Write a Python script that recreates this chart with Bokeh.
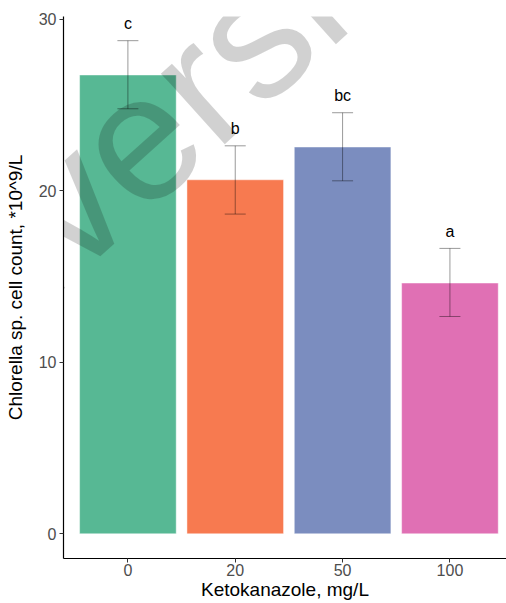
from bokeh.plotting import figure
from bokeh.models import ColumnDataSource, Whisker, Label, FixedTicker, Range1d, TeeHead
from bokeh.core.properties import value
from bokeh.embed import file_html
from bokeh.resources import INLINE

# ---- data ----
doses = ["0", "20", "50", "100"]
means = [26.75, 20.64, 22.55, 14.62]
upper = [28.75, 22.62, 24.55, 16.64]
lower = [24.78, 18.64, 20.58, 12.67]
letters = ["c", "b", "bc", "a"]
colors = ["#57B894", "#F77A50", "#7B8DBF", "#E070B4"]
y_ticks = [0, 10, 20, 30]

pos = list(range(len(doses)))
label_y = [u + 1.0 for u in upper]

src = ColumnDataSource(dict(x=pos, top=means, upper=upper, lower=lower,
                            color=colors, label=letters, ly=label_y))

FONT = "Liberation Sans"

p = figure(width=506, height=603,
           x_range=Range1d(-0.6, 3.527), y_range=Range1d(-1.44, 30.16),
           output_backend="svg", toolbar_location=None,
           min_border_left=63, min_border_right=0,
           min_border_top=16, min_border_bottom=45)
p.outline_line_color = None
p.xgrid.visible = False
p.ygrid.visible = False
p.background_fill_color = "white"
p.border_fill_color = "white"

p.vbar(x="x", top="top", bottom=0, width=0.9, fill_color="color",
       line_color="white", line_alpha=0.45, line_width=1, source=src)

p.add_layout(Whisker(base="x", upper="upper", lower="lower", source=src,
                     level="annotation",
                     line_color="black", line_alpha=0.4, line_width=1,
                     upper_head=TeeHead(size=21, line_color="black", line_alpha=0.4, line_width=1),
                     lower_head=TeeHead(size=21, line_color="black", line_alpha=0.4, line_width=1)))

p.text(x="x", y="ly", text="label", source=src, text_align="center",
       text_baseline="middle", text_font=value(FONT), text_font_size="16px",
       text_color="black")

# watermark
p.add_layout(Label(x=-2.76, y=6.98, text="University", angle=0.733,
                   text_font=FONT, text_font_size="180px",
                   text_color="black", text_alpha=0.18,
                   text_align="left", text_baseline="alphabetic"))

for ax in (p.xaxis, p.yaxis):
    ax.axis_line_color = "black"
    ax.axis_line_width = 1.2
    ax.major_tick_line_color = "#333333"
    ax.major_tick_line_width = 1
    ax.major_tick_in = 0
    ax.major_tick_out = 4
    ax.minor_tick_line_color = None
    ax.major_label_text_font = FONT
    ax.major_label_text_font_size = "16px"
    ax.major_label_text_color = "#4D4D4D"
    ax.axis_label_text_font = FONT
    ax.axis_label_text_font_size = "19px"
    ax.axis_label_text_font_style = "normal"
    ax.axis_label_text_color = "black"

p.xaxis.ticker = FixedTicker(ticks=pos)
p.xaxis.major_label_overrides = {i: d for i, d in zip(pos, doses)}
p.xaxis.axis_label = "Ketokanazole, mg/L"
p.xaxis.major_label_standoff = 1
p.xaxis.axis_label_standoff = 0

p.yaxis.ticker = FixedTicker(ticks=y_ticks)
p.yaxis.axis_label = "Chlorella sp. cell count, *10^9/L"
p.yaxis.major_label_standoff = 3
p.yaxis.axis_label_standoff = 10

open("out.html", "w").write(file_html(p, INLINE))
